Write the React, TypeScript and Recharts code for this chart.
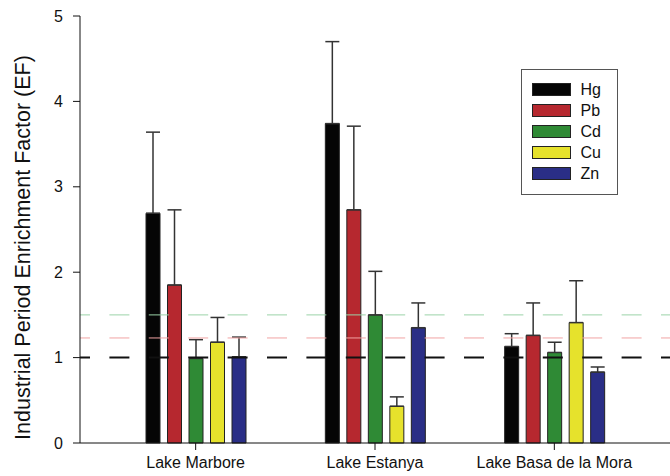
import { Bar, BarChart, ErrorBar, Legend, ReferenceLine, XAxis, YAxis } from "recharts";

const lakes = ["Lake Marbore", "Lake Estanya", "Lake Basa de la Mora"];

const hg = [2.69, 3.74, 1.13];
const hgErr = [0.95, 0.96, 0.15];
const pb = [1.85, 2.73, 1.26];
const pbErr = [0.88, 0.98, 0.38];
const cd = [0.99, 1.5, 1.06];
const cdErr = [0.22, 0.51, 0.12];
const cu = [1.18, 0.43, 1.41];
const cuErr = [0.29, 0.11, 0.49];
const zn = [1.01, 1.35, 0.83];
const znErr = [0.23, 0.29, 0.06];

const yTicks = [0, 1, 2, 3, 4, 5];
const baseline = 1;
const pbLevel = 1.23;
const cdLevel = 1.5;

const data = lakes.map((name, i) => ({
  name,
  Hg: hg[i],
  hgErr: [0, hgErr[i]],
  Pb: pb[i],
  pbErr: [0, pbErr[i]],
  Cd: cd[i],
  cdErr: [0, cdErr[i]],
  Cu: cu[i],
  cuErr: [0, cuErr[i]],
  Zn: zn[i],
  znErr: [0, znErr[i]],
}));

const series = [
  { key: "Hg", err: "hgErr", color: "#050505" },
  { key: "Pb", err: "pbErr", color: "#b6282f" },
  { key: "Cd", err: "cdErr", color: "#2f8a35" },
  { key: "Cu", err: "cuErr", color: "#e6e22c" },
  { key: "Zn", err: "znErr", color: "#2a2e86" },
];
const order = series.map((s) => s.key);

function LegendBox(props: any) {
  const items = [...(props.payload || [])].sort(
    (a: any, b: any) => order.indexOf(a.value) - order.indexOf(b.value)
  );
  return (
    <div
      style={{
        border: "1.5px solid #555",
        width: 97,
        height: 126,
        boxSizing: "border-box",
        padding: "9px 0 0 9.5px",
        background: "#fff",
      }}
    >
      {items.map((p: any) => (
        <div key={p.value} style={{ display: "flex", alignItems: "center", height: 21 }}>
          <span
            style={{
              width: 39,
              height: 13,
              background: p.color,
              border: "1px solid #222",
              boxSizing: "border-box",
            }}
          />
          <span style={{ marginLeft: 10, fontSize: 16, color: "#111" }}>{p.value}</span>
        </div>
      ))}
    </div>
  );
}

export default function App() {
  return (
    <div
      style={{
        position: "fixed",
        left: 0,
        top: 0,
        width: 670,
        height: 476,
        background: "#fff",
        fontFamily: '"Liberation Sans", Arial, sans-serif',
      }}
    >
      <BarChart
        width={670}
        height={476}
        data={data}
        margin={{ top: 16, right: 0, left: 20, bottom: 0 }}
        barSize={14}
        barGap={7.5}
      >
        <XAxis
          dataKey="name"
          interval={0}
          padding={{ left: 26, right: 26 }}
          height={33}
          tickSize={7}
          tickMargin={7}
          axisLine={{ stroke: "#111" }}
          tickLine={{ stroke: "#111" }}
          tick={{ fill: "#111", fontSize: 16 }}
        />
        <YAxis
          domain={[0, 5]}
          ticks={yTicks}
          width={60}
          tickSize={7}
          tickMargin={10}
          axisLine={{ stroke: "#111" }}
          tickLine={{ stroke: "#111" }}
          tick={{ fill: "#111", fontSize: 16 }}
          label={{
            value: "Industrial Period Enrichment Factor (EF)",
            angle: -90,
            position: "center",
            dx: -28,
            dy: 18,
            fontSize: 21.5,
            fill: "#111",
          }}
        />
        <Legend
          layout="vertical"
          align="center"
          verticalAlign="middle"
          content={<LegendBox />}
          wrapperStyle={{ left: 521, top: 69, width: 97, height: 126 }}
        />
        {series.map((s) => (
          <Bar
            key={s.key}
            dataKey={s.key}
            name={s.key}
            fill={s.color}
            stroke="#222"
            strokeWidth={1}
            isAnimationActive={false}
          >
            <ErrorBar
              dataKey={s.err}
              direction="y"
              width={7}
              stroke="#333"
              strokeWidth={1.5}
              isAnimationActive={false}
            />
          </Bar>
        ))}
        <ReferenceLine y={cdLevel} stroke="#9bd3a9" strokeWidth={1} strokeDasharray="20 19.4" strokeDashoffset={10} />
        <ReferenceLine y={pbLevel} stroke="#f1a3a3" strokeWidth={1} strokeDasharray="20 19.4" strokeDashoffset={10} />
        <ReferenceLine y={baseline} stroke="#111" strokeWidth={2} strokeDasharray="20 19.4" strokeDashoffset={10} />
      </BarChart>
    </div>
  );
}
